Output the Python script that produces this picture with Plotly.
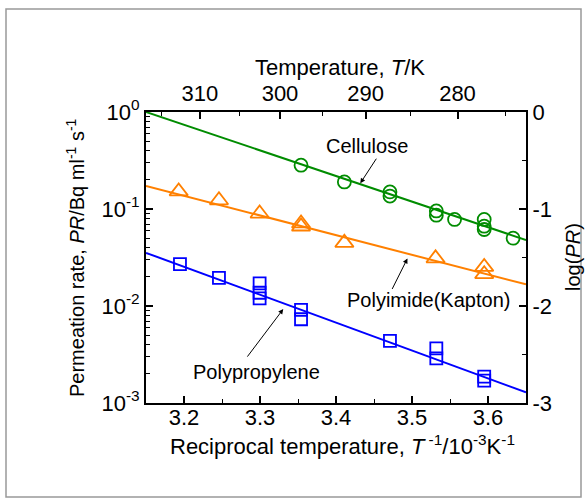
import numpy as np
import plotly.graph_objects as go

# ---- data ----
cell_x = [3.354, 3.411, 3.471, 3.471, 3.532, 3.532, 3.556, 3.595, 3.595, 3.595, 3.633]
cell_y = [0.283, 0.190, 0.150, 0.136, 0.0955, 0.0863, 0.078, 0.078, 0.0665, 0.0615, 0.050]

pi_x = [3.193, 3.246, 3.2995, 3.354, 3.354, 3.411, 3.531, 3.595, 3.595]
pi_y = [0.152, 0.123, 0.0898, 0.071, 0.066, 0.0448, 0.031, 0.0253, 0.0213]

pp_x = [3.1947, 3.246, 3.2995, 3.2995, 3.2995, 3.354, 3.354, 3.471, 3.532, 3.532, 3.595, 3.595]
pp_y = [0.027, 0.0195, 0.0171, 0.0137, 0.012, 0.0091, 0.0073, 0.00438, 0.00366, 0.00289, 0.00187, 0.0017]

# fitted lines: log10(PR) = a + b*(x - 3.15)
fit_cell = (0.0, -2.64)
fit_pi = (-0.762, -2.03)
fit_pp = (-1.452, -2.876)

x_range = [3.15, 3.65]
x_ticks = [3.2, 3.3, 3.4, 3.5, 3.6]
x_minor = [3.15, 3.25, 3.35, 3.45, 3.55, 3.65]
y_ticks = [1e-3, 1e-2, 1e-1, 1e0]
y_ticktext = ["10<sup>-3</sup>", "10<sup>-2</sup>", "10<sup>-1</sup>", "10<sup>0</sup>"]
y2_ticks = [-3, -2, -1, 0]
y2_ticktext = ["-3", "-2", "-1", "0"]
T_major = [310, 300, 290, 280]
T_minor = [315, 305, 295, 285, 275]
top_range = [3.1536, 3.6633]

GREEN = "#008c00"
ORANGE = "#ff8000"
BLUE = "#0000ff"

fig = go.Figure()

xl = np.array(x_range)
for (a, b), col in [(fit_cell, GREEN), (fit_pi, ORANGE), (fit_pp, BLUE)]:
    fig.add_trace(go.Scatter(x=xl, y=10 ** (a + b * (xl - 3.15)), mode="lines",
                             line=dict(color=col, width=2), hoverinfo="skip"))

fig.add_trace(go.Scatter(x=cell_x, y=cell_y, mode="markers",
                         marker=dict(symbol="circle-open", size=13, color=GREEN, line=dict(width=1.8))))
fig.add_trace(go.Scatter(x=pi_x, y=pi_y, mode="markers",
                         marker=dict(symbol="triangle-up-open", size=16, color=ORANGE, line=dict(width=1.8))))
fig.add_trace(go.Scatter(x=pp_x, y=pp_y, mode="markers",
                         marker=dict(symbol="square-open", size=12, color=BLUE, line=dict(width=1.8))))

# invisible trace so the top / right axes are drawn
top_pos = [1000.0 / t for t in T_major]
fig.add_trace(go.Scatter(x=top_pos, y=[-1.5] * len(top_pos), xaxis="x2", yaxis="y2",
                         mode="markers", marker=dict(opacity=0), hoverinfo="skip"))

axis_common = dict(showline=True, linecolor="black", linewidth=2, showgrid=False, zeroline=False,
                   ticks="inside", ticklen=7, tickwidth=1.5, tickcolor="black",
                   tickfont=dict(size=22, color="black"))

fig.update_layout(
    width=587, height=504,
    margin=dict(l=146, r=61, t=112, b=101),
    showlegend=False,
    plot_bgcolor="white", paper_bgcolor="white",
    font=dict(family="Liberation Sans, Arial, sans-serif", size=20, color="black"),
    xaxis=dict(range=x_range, tickvals=x_ticks, ticktext=[f"{v:.1f}" for v in x_ticks],
               ticklabelstandoff=-6,
               minor=dict(tickvals=x_minor, ticks="inside", ticklen=4, tickwidth=1.2, tickcolor="black"),
               **axis_common),
    yaxis=dict(type="log", range=[-3, 0], tickvals=y_ticks, ticktext=y_ticktext,
               minor=dict(tickvals=[k * 10.0 ** e for e in (-3, -2, -1) for k in range(2, 10)],
                          ticks="inside", ticklen=4, tickwidth=1.2, tickcolor="black"),
               **axis_common),
    xaxis2=dict(overlaying="x", side="top", anchor="y", range=top_range,
                tickvals=[1000.0 / t for t in T_major], ticktext=[str(t) for t in T_major],
                minor=dict(tickvals=[1000.0 / t for t in T_minor], ticks="inside", ticklen=4,
                           tickwidth=1.2, tickcolor="black"),
                **axis_common),
    yaxis2=dict(overlaying="y", side="right", anchor="x", range=[-3, 0],
                tickvals=y2_ticks, ticktext=y2_ticktext,
                minor=dict(tickvals=[-2.5, -1.5, -0.5], ticks="inside", ticklen=4,
                           tickwidth=1.2, tickcolor="black"),
                **axis_common),
)

# labels with arrows
texts = [("Cellulose", 3.4403, -0.353), ("Polyimide(Kapton)", 3.5222, -1.939),
         ("Polypropylene", 3.2955, -2.681)]
for t, x, ly in texts:
    fig.add_annotation(x=x, y=ly, xref="x", yref="y", text=t, showarrow=False,
                       xanchor="center", yanchor="middle", font=dict(size=20))
arrows = [(3.432, -0.734, 17, -26), (3.494, -1.510, -16, 32), (3.3306, -2.032, -37, 49)]
for x, ly, ax, ay in arrows:
    fig.add_annotation(x=x, y=ly, xref="x", yref="y", text="", showarrow=True,
                       ax=ax, ay=ay, arrowhead=2, arrowsize=1, arrowwidth=1, arrowcolor="black")

# axis titles
def paper_x(px):
    return (px - 146) / 380

def paper_y(py):
    return (403 - py) / 291

fig.add_annotation(x=paper_x(342), y=paper_y(445), xref="paper", yref="paper",
                   xanchor="center", yanchor="middle",
                   text="Reciprocal temperature, <i>T</i><sup> -1</sup>/10<sup>-3</sup>K<sup>-1</sup>",
                   showarrow=False, font=dict(size=22))
fig.add_annotation(x=paper_x(340), y=paper_y(67), xref="paper", yref="paper",
                   xanchor="center", yanchor="middle",
                   text="Temperature, <i>T</i>/K", showarrow=False, font=dict(size=22))
fig.add_annotation(x=paper_x(75), y=paper_y(258), xref="paper", yref="paper",
                   xanchor="center", yanchor="middle",
                   text="Permeation rate, <i>PR</i>/Bq ml<sup>-1</sup> s<sup>-1</sup>",
                   textangle=-90, showarrow=False, font=dict(size=20))
fig.add_annotation(x=paper_x(573), y=paper_y(257), xref="paper", yref="paper",
                   xanchor="center", yanchor="middle",
                   text="log(<i>PR</i>)", textangle=-90, showarrow=False, font=dict(size=20))

# outer frame
fig.add_shape(type="rect", xref="paper", yref="paper",
              x0=paper_x(6), x1=paper_x(581), y0=paper_y(497), y1=paper_y(9),
              line=dict(color="#999999", width=1.5), fillcolor="rgba(0,0,0,0)", layer="below")

fig.write_html("out.html", config={"displayModeBar": False},
               post_script="document.body.style.margin='0';document.body.style.overflow='hidden';")
